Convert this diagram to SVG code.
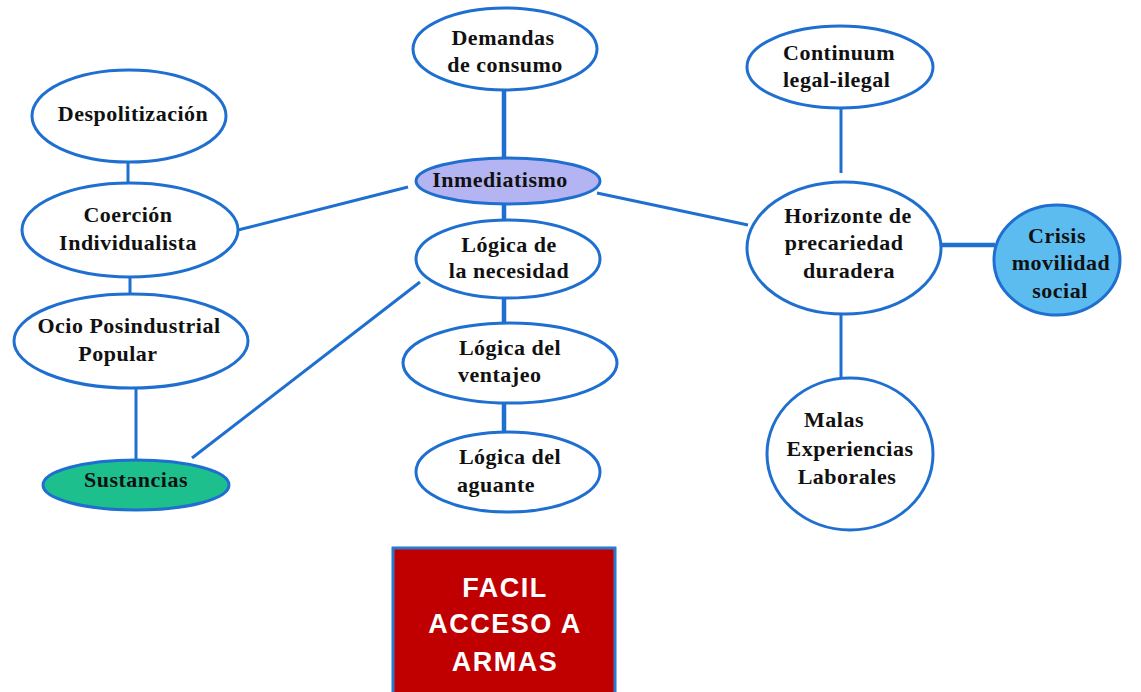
<svg xmlns="http://www.w3.org/2000/svg" width="1141" height="692" viewBox="0 0 1141 692">
<style>
.n{fill:#fff;stroke:#1f6fd1;stroke-width:3}
.c line{stroke:#1f6fd1;stroke-width:3}
.c line.t{stroke-width:4.5}
text.l{font-family:"Liberation Serif","Times New Roman",serif;font-weight:bold;font-size:22px;fill:#111;text-anchor:middle;letter-spacing:0.5px}
text.b{font-family:"Liberation Sans",Arial,sans-serif;font-weight:bold;font-size:27px;fill:#fff;text-anchor:middle;letter-spacing:1.5px}
</style>
<rect width="1141" height="692" fill="#fff"/>
<g class="c" id="connectors">
<line x1="128" y1="163" x2="128" y2="184"/>
<line x1="130" y1="277" x2="130" y2="295"/>
<line x1="136" y1="388" x2="136" y2="461"/>
<line x1="192" y1="458" x2="420" y2="282"/>
<line x1="238" y1="230" x2="408" y2="187"/>
<line class="t" x1="504" y1="90" x2="504" y2="158"/>
<line class="t" x1="504" y1="204" x2="504" y2="221"/>
<line x1="597" y1="193" x2="748" y2="225"/>
<line class="t" x1="504" y1="298" x2="504" y2="323"/>
<line class="t" x1="504" y1="403" x2="504" y2="432"/>
<line x1="841" y1="108" x2="841" y2="173"/>
<line class="t" x1="942" y1="245" x2="995" y2="245"/>
<line x1="841" y1="315" x2="841" y2="379"/>
</g>
<g id="despolitizacion"><ellipse class="n" cx="129" cy="116" rx="97" ry="46"/><text class="l" x="133" y="121">Despolitización</text></g>
<g id="coercion"><ellipse class="n" cx="130" cy="230" rx="108" ry="47"/><text class="l" x="128" y="222">Coerción</text><text class="l" x="128" y="250">Individualista</text></g>
<g id="ocio"><ellipse class="n" cx="131" cy="341" rx="117" ry="47"/><text class="l" x="129" y="333">Ocio Posindustrial</text><text class="l" x="118" y="361">Popular</text></g>
<g id="sustancias"><ellipse class="n" cx="136" cy="485" rx="93" ry="25" style="fill:#1dbf8c"/><text class="l" x="136" y="487">Sustancias</text></g>
<g id="demandas"><ellipse class="n" cx="505" cy="49" rx="92" ry="41"/><text class="l" x="503" y="45">Demandas</text><text class="l" x="505" y="72">de consumo</text></g>
<g id="inmediatismo"><ellipse class="n" cx="508" cy="181" rx="92" ry="23" style="fill:#b4b4f2"/><text class="l" x="500" y="187">Inmediatismo</text></g>
<g id="necesidad"><ellipse class="n" cx="508" cy="259" rx="92" ry="39"/><text class="l" x="509" y="252">Lógica de</text><text class="l" x="509" y="278">la necesidad</text></g>
<g id="ventajeo"><ellipse class="n" cx="510" cy="363" rx="107" ry="40"/><text class="l" x="510" y="355">Lógica del</text><text class="l" x="458" y="382" style="text-anchor:start">ventajeo</text></g>
<g id="aguante"><ellipse class="n" cx="508" cy="472" rx="92" ry="40"/><text class="l" x="510" y="464">Lógica del</text><text class="l" x="457" y="492" style="text-anchor:start">aguante</text></g>
<g id="armas"><rect x="393" y="548" width="222" height="150" fill="#c00000" stroke="#2a78d0" stroke-width="3"/><text class="b" x="505" y="597">FACIL</text><text class="b" x="505" y="633">ACCESO A</text><text class="b" x="505" y="671">ARMAS</text></g>
<g id="continuum"><ellipse class="n" cx="840" cy="67" rx="93" ry="41"/><text class="l" x="783" y="60" style="text-anchor:start">Continuum</text><text class="l" x="783" y="87" style="text-anchor:start">legal-ilegal</text></g>
<g id="horizonte"><ellipse class="n" cx="844" cy="248" rx="97" ry="66"/><text class="l" x="848" y="223">Horizonte de</text><text class="l" x="844" y="250">precariedad</text><text class="l" x="849" y="278">duradera</text></g>
<g id="crisis"><ellipse class="n" cx="1057" cy="260" rx="63" ry="55" style="fill:#5cbcf0"/><text class="l" x="1057" y="243">Crisis</text><text class="l" x="1061" y="270">movilidad</text><text class="l" x="1060" y="298">social</text></g>
<g id="malas"><ellipse class="n" cx="850" cy="454" rx="83" ry="76"/><text class="l" x="834" y="427">Malas</text><text class="l" x="850" y="456">Experiencias</text><text class="l" x="847" y="484">Laborales</text></g>
</svg>
